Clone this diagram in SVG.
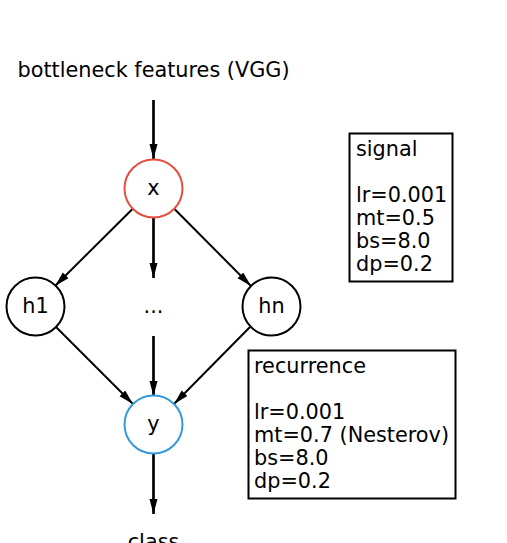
<svg xmlns="http://www.w3.org/2000/svg" width="507" height="543" viewBox="0 0 507 543">
<style>
text{font-family:"DejaVu Sans","Liberation Sans",sans-serif;font-size:20.8px;fill:#000}
.c{text-anchor:middle}
.node{fill:#fff;stroke:#000;stroke-width:2}
.box{fill:#fff;stroke:#000;stroke-width:2}
.e{stroke:#000;fill:none}
.v{stroke-width:2.7}
.d{stroke-width:2}
</style>
<defs>
<marker id="ah" markerUnits="userSpaceOnUse" markerWidth="16" markerHeight="10" refX="15" refY="4" orient="auto">
<path d="M0,0 L15,4 L0,8 Z" fill="#000"/>
</marker>
</defs>
<rect width="507" height="543" fill="#fff"/>
<g id="connectors">
<line class="e v" x1="153.5" y1="100" x2="153.5" y2="159" marker-end="url(#ah)"/>
<line class="e v" x1="153.5" y1="218" x2="153.5" y2="278" marker-end="url(#ah)"/>
<line class="e v" x1="153.5" y1="336" x2="153.5" y2="396" marker-end="url(#ah)"/>
<line class="e v" x1="153.5" y1="454" x2="153.5" y2="514" marker-end="url(#ah)"/>
<line class="e d" x1="132.5" y1="209" x2="55" y2="286" marker-end="url(#ah)"/>
<line class="e d" x1="174.5" y1="209" x2="251" y2="286" marker-end="url(#ah)"/>
<line class="e d" x1="56" y1="327" x2="133" y2="404" marker-end="url(#ah)"/>
<line class="e d" x1="250" y1="327" x2="174" y2="404" marker-end="url(#ah)"/>
</g>
<g id="input"><text class="c" x="153.5" y="77">bottleneck features (VGG)</text></g>
<g id="x"><circle class="node" cx="153.5" cy="188.5" r="29" style="stroke:#e74c3c"/><text class="c" x="153.5" y="195">x</text></g>
<g id="h1"><circle class="node" cx="35.5" cy="306.5" r="29"/><text class="c" x="35.5" y="313">h1</text></g>
<g id="dots"><text class="c" x="153.5" y="313">...</text></g>
<g id="hn"><circle class="node" cx="271.5" cy="306.5" r="29"/><text class="c" x="271.5" y="313">hn</text></g>
<g id="y"><circle class="node" cx="153.5" cy="424.5" r="29" style="stroke:#3498db"/><text class="c" x="153.5" y="431">y</text></g>
<g id="class"><text class="c" x="153.5" y="549">class</text></g>
<g id="signal">
<rect class="box" x="349.5" y="133.5" width="103" height="148"/>
<text x="356" y="156">signal</text>
<text x="356" y="202">lr=0.001</text>
<text x="356" y="225">mt=0.5</text>
<text x="356" y="248">bs=8.0</text>
<text x="356" y="271">dp=0.2</text>
</g>
<g id="recurrence">
<rect class="box" x="248.5" y="350.5" width="207" height="148"/>
<text x="254" y="373">recurrence</text>
<text x="254" y="419">lr=0.001</text>
<text x="254" y="442">mt=0.7 (Nesterov)</text>
<text x="254" y="465">bs=8.0</text>
<text x="254" y="488">dp=0.2</text>
</g>
</svg>
